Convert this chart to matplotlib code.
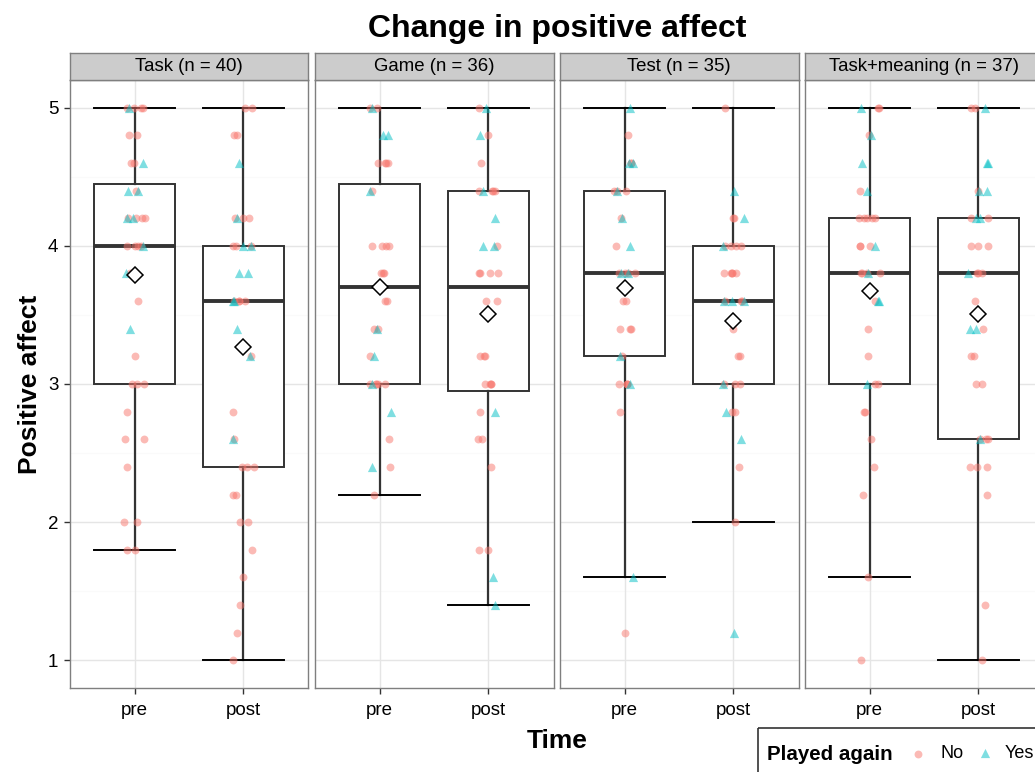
import numpy as np
import matplotlib.pyplot as plt
from matplotlib.patches import Rectangle

plt.rcParams['font.family'] = ['Liberation Sans', 'DejaVu Sans']

conditions = ['Task (n = 40)', 'Game (n = 36)', 'Test (n = 35)', 'Task+meaning (n = 37)']
times = ['pre', 'post']
y_ticks = [1, 2, 3, 4, 5]

# scores per condition / time, split by "Played again"
task_pre_no = [1.8, 1.8, 2.0, 2.0, 2.4, 2.6, 2.6, 2.8, 3.0, 3.0, 3.0, 3.2, 3.6, 3.8,
               4.0, 4.0, 4.0, 4.0, 4.2, 4.2, 4.2, 4.2, 4.4, 4.6, 4.6, 4.8, 4.8,
               5.0, 5.0, 5.0, 5.0]
task_pre_yes = [3.4, 3.8, 4.0, 4.2, 4.2, 4.4, 4.4, 4.6, 5.0]
task_post_no = [1.0, 1.2, 1.4, 1.6, 1.8, 2.0, 2.0, 2.2, 2.2, 2.4, 2.4, 2.4, 2.6, 2.8,
                3.2, 3.6, 3.6, 3.6, 3.6, 4.0, 4.0, 4.0, 4.2, 4.2, 4.2, 4.8, 4.8,
                5.0, 5.0]
task_post_yes = [2.6, 3.2, 3.4, 3.6, 3.6, 3.8, 3.8, 4.0, 4.0, 4.2, 4.6]

game_pre_no = [2.2, 2.4, 2.6, 3.0, 3.0, 3.0, 3.0, 3.0, 3.2, 3.4, 3.4, 3.6, 3.6,
               3.8, 3.8, 3.8, 4.0, 4.0, 4.0, 4.0, 4.4, 4.6, 4.6, 4.6, 4.6, 5.0, 5.0]
game_pre_yes = [2.4, 2.8, 3.0, 3.2, 3.4, 4.4, 4.8, 4.8, 5.0]
game_post_no = [1.8, 1.8, 2.4, 2.6, 2.6, 2.8, 3.0, 3.0, 3.0, 3.0, 3.2, 3.2, 3.2,
                3.6, 3.6, 3.8, 3.8, 3.8, 3.8, 4.0, 4.4, 4.4, 4.4, 4.4, 4.6, 4.8, 5.0]
game_post_yes = [1.4, 1.6, 2.8, 4.0, 4.0, 4.2, 4.4, 4.8, 5.0]

test_pre_no = [1.2, 2.8, 3.0, 3.0, 3.0, 3.0, 3.2, 3.4, 3.4, 3.4, 3.6, 3.6,
               3.8, 3.8, 3.8, 3.8, 4.0, 4.2, 4.4, 4.4, 4.4, 4.6, 4.6, 4.8]
test_pre_yes = [1.6, 3.0, 3.2, 3.8, 3.8, 4.0, 4.2, 4.4, 4.6, 4.6, 5.0]
test_post_no = [2.0, 2.4, 2.8, 2.8, 3.0, 3.0, 3.0, 3.2, 3.2, 3.4, 3.6, 3.6, 3.6,
                3.8, 3.8, 3.8, 3.8, 3.8, 4.0, 4.0, 4.0, 4.0, 4.2, 4.2, 5.0]
test_post_yes = [1.2, 2.6, 2.8, 3.0, 3.6, 3.6, 3.6, 4.0, 4.2, 4.4]

tm_pre_no = [1.0, 1.6, 2.2, 2.4, 2.6, 2.8, 2.8, 3.0, 3.0, 3.2, 3.4, 3.6,
             3.8, 3.8, 3.8, 3.8, 4.0, 4.0, 4.0, 4.2, 4.2, 4.2, 4.2, 4.2,
             4.4, 4.8, 5.0, 5.0]
tm_pre_yes = [3.0, 3.6, 3.6, 3.8, 4.0, 4.4, 4.6, 4.8, 5.0]
tm_post_no = [1.0, 1.4, 2.2, 2.4, 2.4, 2.4, 2.6, 2.6, 2.6, 3.0, 3.0, 3.2, 3.2,
              3.4, 3.6, 3.8, 3.8, 3.8, 4.0, 4.0, 4.0, 4.2, 4.2, 4.4, 5.0, 5.0]
tm_post_yes = [2.6, 3.4, 3.4, 3.8, 4.2, 4.2, 4.4, 4.4, 4.6, 4.6, 5.0]

panels = [
    (task_pre_no, task_pre_yes, task_post_no, task_post_yes),
    (game_pre_no, game_pre_yes, game_post_no, game_post_yes),
    (test_pre_no, test_pre_yes, test_post_no, test_post_yes),
    (tm_pre_no, tm_pre_yes, tm_post_no, tm_post_yes),
]

W, H = 1035, 772
NO_COL = '#F8766D'
YES_COL = '#00BFC4'


def px_box(x, y, w, h):
    return [x / W, 1 - (y + h) / H, w / W, h / H]


fig = plt.figure(figsize=(W / 100, H / 100), dpi=100)
fig.set_facecolor('white')

rng = np.random.default_rng(11)
panel_top, panel_h, panel_w = 80, 608, 239
lefts = [69.5, 314.5, 559.5, 804.5]

for i, (label, groups) in enumerate(zip(conditions, panels)):
    ax = fig.add_axes(px_box(lefts[i], panel_top, panel_w, panel_h))
    pre_no, pre_yes, post_no, post_yes = groups
    allvals = [pre_no + pre_yes, post_no + post_yes]

    ax.set_xlim(0.4, 2.6)
    ax.set_ylim(0.8, 5.2)
    ax.set_axisbelow(True)
    for yv in [1.5, 2.5, 3.5, 4.5]:
        ax.axhline(yv, color='#FAFAFA', lw=0.8, zorder=0)
    ax.grid(True, color='#E5E5E5', lw=1.0, zorder=0)

    ax.boxplot(allvals, positions=[1, 2], widths=0.75, whis=1.5, showfliers=False,
               patch_artist=True, capwidths=0.75,
               boxprops=dict(facecolor='white', edgecolor='#333333', lw=1.4),
               medianprops=dict(color='#333333', lw=2.8),
               whiskerprops=dict(color='#333333', lw=1.6),
               capprops=dict(color='black', lw=1.4), zorder=2)

    for pos, no_vals, yes_vals in [(1, pre_no, pre_yes), (2, post_no, post_yes)]:
        jx = pos + rng.uniform(-0.1, 0.1, len(no_vals))
        ax.scatter(jx, no_vals, s=32, marker='o', color=NO_COL, alpha=0.5,
                   lw=0, zorder=3)
        jx = pos + rng.uniform(-0.1, 0.1, len(yes_vals))
        ax.scatter(jx, yes_vals, s=44, marker='^', color=YES_COL, alpha=0.5,
                   lw=0, zorder=3)

    means = [np.mean(v) for v in allvals]
    ax.plot([1, 2], means, ls='none', marker='D', ms=8.5, mfc='white', mec='black',
            mew=1.1, zorder=4)

    ax.set_xticks([1, 2])
    ax.set_xticklabels(times, fontsize=13.5)
    ax.set_yticks(y_ticks)
    ax.tick_params(colors='#333333', labelcolor='black', width=1.0, length=4, pad=6)
    if i == 0:
        ax.set_yticklabels([str(t) for t in y_ticks], fontsize=13.5)
        ax.tick_params(axis='y', pad=4)
    else:
        ax.tick_params(axis='y', length=0, labelleft=False)
    for sp in ax.spines.values():
        sp.set_color('#7F7F7F')
        sp.set_linewidth(1.0)

    sax = fig.add_axes(px_box(lefts[i], 53, panel_w, 27))
    sax.set_xticks([])
    sax.set_yticks([])
    sax.set_facecolor('#CCCCCC')
    for sp in sax.spines.values():
        sp.set_color('#7F7F7F')
        sp.set_linewidth(1.0)
    sax.text(0.5, 0.5, label, ha='center', va='center', fontsize=13.4,
             transform=sax.transAxes)

fig.text(557 / W, 1 - 29 / H, 'Change in positive affect', ha='center', va='center',
         fontsize=23, fontweight='bold')
fig.text(557 / W, 1 - 741 / H, 'Time', ha='center', va='center',
         fontsize=19, fontweight='bold')
fig.text(30 / W, 1 - 384 / H, 'Positive affect', ha='center', va='center',
         rotation=90, fontsize=19, fontweight='bold')

# legend drawn by hand: title on the left, keys in a row
lax = fig.add_axes(px_box(757, 727, 300, 50))
lax.set_xlim(0, 300)
lax.set_ylim(50, 0)
lax.axis('off')
lax.add_patch(Rectangle((0.5, 0.5), 299, 49, fill=False, edgecolor='#333333', lw=1.2))
lax.text(10, 27, 'Played again', ha='left', va='center', fontsize=14.8, fontweight='bold')
lax.scatter([161], [27], s=32, marker='o', color=NO_COL, alpha=0.5, lw=0)
lax.text(183, 27, 'No', ha='left', va='center', fontsize=13)
lax.scatter([228], [26], s=44, marker='^', color=YES_COL, alpha=0.5, lw=0)
lax.text(248, 27, 'Yes', ha='left', va='center', fontsize=13)

fig.savefig('out.png', dpi=100)
plt.close(fig)
